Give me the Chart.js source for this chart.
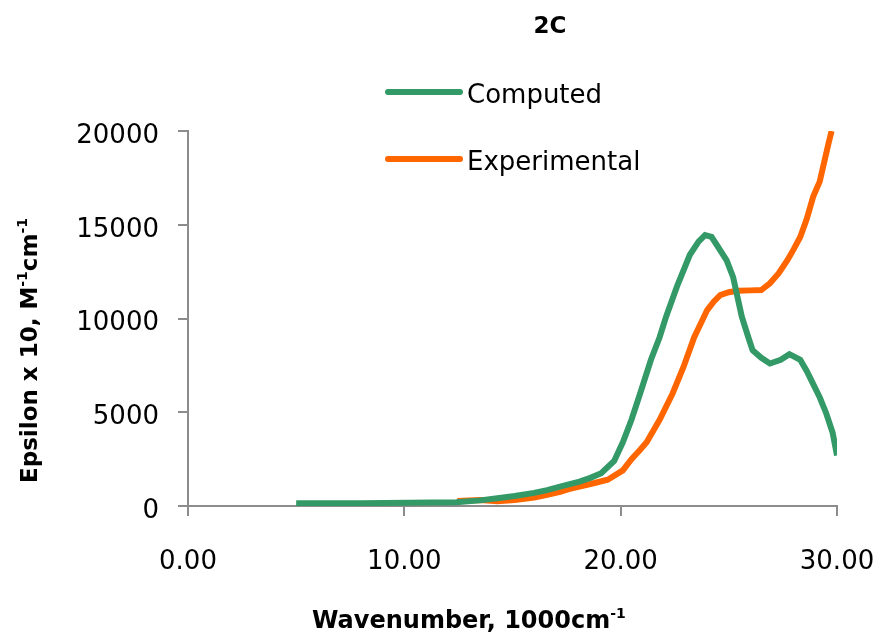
<!DOCTYPE html>
<html lang="en">
<head>
    <title>2C</title>
    <meta charset="utf-8">
    <script src="https://cdn.jsdelivr.net/npm/chart.js@4.4.0/dist/chart.umd.js"></script>
    <style>
        body { margin: 0; background: #fff; }
    </style>
</head>
<body>
    <canvas id="spectrum" width="881" height="634"></canvas>

    <script>
        // Data
        const computedX = [5.0, 8.0, 12.4, 13.5, 14.3, 15.1, 16.0, 16.6, 17.2, 17.6, 18.1, 18.6, 19.1, 19.7, 20.1, 20.5, 20.9, 21.4, 21.8, 22.1, 22.6, 23.2, 23.6, 23.9, 24.2, 24.4, 24.9, 25.2, 25.6, 25.9, 26.1, 26.5, 26.9, 27.4, 27.8, 28.3, 28.6, 28.9, 29.2, 29.5, 29.8, 30.0];
        const computedY = [150, 150, 200, 300, 410, 530, 700, 850, 1030, 1150, 1300, 1500, 1750, 2400, 3400, 4600, 6000, 7800, 9000, 10100, 11700, 13400, 14100, 14450, 14350, 14000, 13100, 12200, 10100, 9000, 8300, 7900, 7600, 7800, 8100, 7800, 7200, 6500, 5800, 4950, 3900, 2700];

        const experimentalX = [12.45, 13.5, 14.3, 15.1, 16.0, 16.6, 17.2, 17.6, 18.1, 18.7, 19.4, 20.1, 20.5, 20.9, 21.2, 21.8, 22.4, 22.9, 23.4, 24.0, 24.3, 24.6, 25.0, 25.4, 26.0, 26.5, 26.9, 27.3, 27.7, 28.0, 28.3, 28.6, 28.9, 29.2, 29.4, 29.6, 29.75];
        const experimentalY = [270, 320, 250, 320, 450, 590, 760, 900, 1030, 1200, 1400, 1900, 2500, 3000, 3400, 4600, 6000, 7400, 9000, 10450, 10900, 11250, 11400, 11480, 11500, 11520, 11880, 12400, 13100, 13700, 14350, 15300, 16500, 17300, 18300, 19300, 20000];

        const seriesNames = ['Computed', 'Experimental'];
        const seriesColors = ['#339966', '#ff6600'];

        const toPoints = (xs, ys) => xs.map((x, i) => ({ x: x, y: ys[i] }));

        const axisColor = '#8c8c8c';
        const tickFont = { family: 'DejaVu Sans', size: 26 };

        // draws a string with superscript parts, left aligned on the baseline
        function drawRich(ctx, parts, x, y) {
            let cx = x;
            parts.forEach(p => {
                ctx.font = p.sup ? 'bold 14px "DejaVu Sans"' : 'bold ' + p.size + 'px "DejaVu Sans"';
                ctx.fillText(p.t, cx, p.sup ? y - 10 : y);
                cx += ctx.measureText(p.t).width;
            });
        }

        const decorations = {
            id: 'decorations',
            afterDraw(chart) {
                const ctx = chart.ctx;
                ctx.save();
                ctx.fillStyle = '#000';
                ctx.textBaseline = 'alphabetic';

                // title
                ctx.font = 'bold 23px "DejaVu Sans"';
                ctx.textAlign = 'center';
                ctx.fillText('2C', 550, 33);
                ctx.textAlign = 'left';

                // legend
                const rows = [92, 159];
                seriesNames.forEach((name, i) => {
                    ctx.strokeStyle = seriesColors[i];
                    ctx.lineWidth = 6;
                    ctx.lineCap = 'round';
                    ctx.beginPath();
                    ctx.moveTo(388, rows[i]);
                    ctx.lineTo(460, rows[i]);
                    ctx.stroke();
                    ctx.font = '26px "DejaVu Sans"';
                    ctx.textBaseline = 'middle';
                    ctx.fillText(name, 467, rows[i] + 4);
                    ctx.textBaseline = 'alphabetic';
                });

                // x axis title
                drawRich(ctx, [
                    { t: 'Wavenumber, 1000cm', size: 24 },
                    { t: '-1', sup: true }
                ], 312, 628);

                // y axis title
                ctx.translate(37, 483);
                ctx.rotate(-Math.PI / 2);
                drawRich(ctx, [
                    { t: 'Epsilon x 10, M', size: 23 },
                    { t: '-1', sup: true },
                    { t: 'cm', size: 23 },
                    { t: '-1', sup: true }
                ], 0, 0);
                ctx.restore();
            }
        };

        const ctx = document.getElementById('spectrum').getContext('2d');
        new Chart(ctx, {
            type: 'scatter',
            data: {
                datasets: [
                    {
                        label: seriesNames[0],
                        data: toPoints(computedX, computedY),
                        borderColor: seriesColors[0],
                        backgroundColor: seriesColors[0],
                        borderWidth: 6,
                        showLine: true,
                        pointRadius: 0,
                    },
                    {
                        label: seriesNames[1],
                        data: toPoints(experimentalX, experimentalY),
                        borderColor: seriesColors[1],
                        backgroundColor: seriesColors[1],
                        borderWidth: 6,
                        showLine: true,
                        pointRadius: 0,
                    },
                ],
            },
            options: {
                responsive: false,
                animation: false,
                layout: { padding: { top: 131, right: 44, left: 0, bottom: 0 } },
                plugins: {
                    legend: { display: false },
                    title: { display: false },
                    tooltip: { enabled: false },
                },
                scales: {
                    x: {
                        type: 'linear',
                        min: 0,
                        max: 30,
                        border: { color: axisColor, width: 2 },
                        grid: { drawOnChartArea: false, color: axisColor, tickLength: 10, lineWidth: 2 },
                        ticks: {
                            stepSize: 10,
                            color: '#000',
                            font: tickFont,
                            padding: 31,
                            maxRotation: 0,
                            callback: v => v.toFixed(2),
                        },
                        afterFit: scale => {
                            scale.height = 128;
                            scale.paddingLeft = 0;
                            scale.paddingRight = 0;
                        },
                    },
                    y: {
                        min: 0,
                        max: 20000,
                        border: { color: axisColor, width: 2 },
                        grid: { drawOnChartArea: false, color: axisColor, tickLength: 10, lineWidth: 2 },
                        ticks: {
                            stepSize: 5000,
                            color: '#000',
                            font: tickFont,
                            padding: 19,
                            labelOffset: 5,
                            callback: v => String(v),
                        },
                        afterFit: scale => {
                            scale.width = 188;
                            scale.paddingTop = 0;
                            scale.paddingBottom = 0;
                        },
                    },
                },
            },
            plugins: [decorations],
        });
    </script>
</body>
</html>
